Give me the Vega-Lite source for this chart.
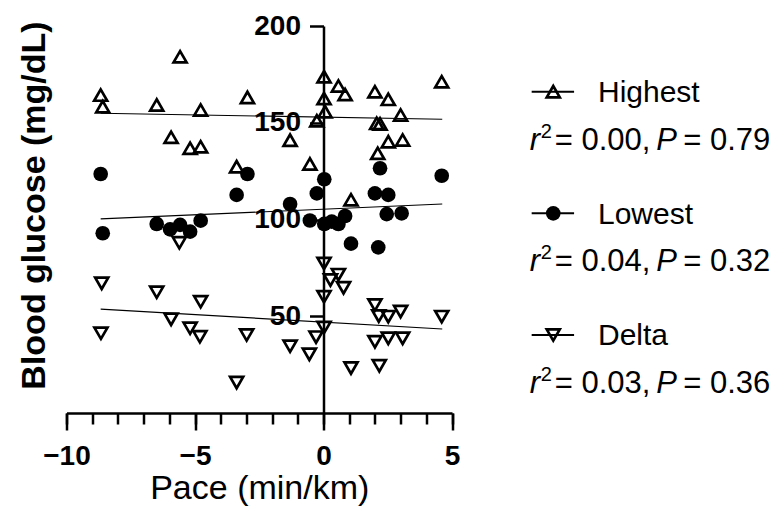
{
  "$schema": "https://vega.github.io/schema/vega-lite/v6.json",
  "autosize": {"type": "none"},
  "padding": {"left": 66.5, "top": 26, "right": 330, "bottom": 95},
  "width": 385.5,
  "height": 387,
  "background": "white",
  "config": {
    "view": {"stroke": null},
    "font": "Liberation Sans",
    "axis": {"grid": false, "domainColor": "black", "tickColor": "black", "labelColor": "black", "titleColor": "black", "labelFlush": false, "labelOverlap": false}
  },
  "datasets": {
    "points": [
      {"series": "Highest", "pace": -8.67, "glucose": 164.3},
      {"series": "Highest", "pace": -8.59, "glucose": 158.3},
      {"series": "Highest", "pace": -6.49, "glucose": 159.2},
      {"series": "Highest", "pace": -5.58, "glucose": 184.1},
      {"series": "Highest", "pace": -4.78, "glucose": 156.6},
      {"series": "Highest", "pace": -2.96, "glucose": 163.1},
      {"series": "Highest", "pace": -5.93, "glucose": 142.5},
      {"series": "Highest", "pace": -5.19, "glucose": 136.8},
      {"series": "Highest", "pace": -4.78, "glucose": 137.6},
      {"series": "Highest", "pace": -3.38, "glucose": 127.3},
      {"series": "Highest", "pace": -1.3, "glucose": 141.0},
      {"series": "Highest", "pace": -0.53, "glucose": 128.7},
      {"series": "Highest", "pace": -0.26, "glucose": 151.0},
      {"series": "Highest", "pace": 0.02, "glucose": 173.8},
      {"series": "Highest", "pace": 0.02, "glucose": 162.5},
      {"series": "Highest", "pace": 0.06, "glucose": 155.7},
      {"series": "Highest", "pace": 0.58, "glucose": 169.0},
      {"series": "Highest", "pace": 0.84, "glucose": 164.6},
      {"series": "Highest", "pace": 1.07, "glucose": 110.2},
      {"series": "Highest", "pace": 2.0, "glucose": 166.0},
      {"series": "Highest", "pace": 2.52, "glucose": 162.1},
      {"series": "Highest", "pace": 3.0, "glucose": 154.0},
      {"series": "Highest", "pace": 2.07, "glucose": 149.7},
      {"series": "Highest", "pace": 2.2, "glucose": 149.4},
      {"series": "Highest", "pace": 2.52, "glucose": 140.2},
      {"series": "Highest", "pace": 3.08, "glucose": 141.1},
      {"series": "Highest", "pace": 2.11, "glucose": 134.2},
      {"series": "Highest", "pace": 4.6, "glucose": 171.2},
      {"series": "Lowest", "pace": -8.67, "glucose": 123.5},
      {"series": "Lowest", "pace": -2.96, "glucose": 123.5},
      {"series": "Lowest", "pace": -3.38, "glucose": 112.7},
      {"series": "Lowest", "pace": -1.3, "glucose": 108.0},
      {"series": "Lowest", "pace": -0.26, "glucose": 113.5},
      {"series": "Lowest", "pace": 0.03, "glucose": 120.8},
      {"series": "Lowest", "pace": 2.2, "glucose": 126.5},
      {"series": "Lowest", "pace": 4.6, "glucose": 122.6},
      {"series": "Lowest", "pace": 2.0, "glucose": 113.5},
      {"series": "Lowest", "pace": 2.52, "glucose": 112.7},
      {"series": "Lowest", "pace": 2.46, "glucose": 102.8},
      {"series": "Lowest", "pace": 3.04, "glucose": 103.2},
      {"series": "Lowest", "pace": -8.59, "glucose": 92.9},
      {"series": "Lowest", "pace": -6.49, "glucose": 97.7},
      {"series": "Lowest", "pace": -5.97, "glucose": 94.9},
      {"series": "Lowest", "pace": -5.58, "glucose": 97.2},
      {"series": "Lowest", "pace": -5.19, "glucose": 93.7},
      {"series": "Lowest", "pace": -4.78, "glucose": 99.4},
      {"series": "Lowest", "pace": -0.53, "glucose": 99.5},
      {"series": "Lowest", "pace": 0.03, "glucose": 97.7},
      {"series": "Lowest", "pace": 0.32, "glucose": 98.9},
      {"series": "Lowest", "pace": 0.58, "glucose": 97.7},
      {"series": "Lowest", "pace": 0.84, "glucose": 101.8},
      {"series": "Lowest", "pace": 1.07, "glucose": 87.5},
      {"series": "Lowest", "pace": 2.13, "glucose": 85.6},
      {"series": "Delta", "pace": -5.61, "glucose": 88.0},
      {"series": "Delta", "pace": -8.63, "glucose": 67.0},
      {"series": "Delta", "pace": -6.49, "glucose": 62.4},
      {"series": "Delta", "pace": -4.78, "glucose": 57.5},
      {"series": "Delta", "pace": -8.66, "glucose": 41.2},
      {"series": "Delta", "pace": -5.93, "glucose": 48.4},
      {"series": "Delta", "pace": -5.19, "glucose": 43.8},
      {"series": "Delta", "pace": -4.81, "glucose": 39.4},
      {"series": "Delta", "pace": -2.99, "glucose": 40.3},
      {"series": "Delta", "pace": -1.3, "glucose": 34.5},
      {"series": "Delta", "pace": -0.55, "glucose": 30.3},
      {"series": "Delta", "pace": -0.29, "glucose": 39.2},
      {"series": "Delta", "pace": 0.02, "glucose": 44.2},
      {"series": "Delta", "pace": -3.38, "glucose": 15.7},
      {"series": "Delta", "pace": 1.07, "glucose": 23.2},
      {"series": "Delta", "pace": 0.02, "glucose": 77.3},
      {"series": "Delta", "pace": 0.58, "glucose": 71.5},
      {"series": "Delta", "pace": 0.27, "glucose": 68.7},
      {"series": "Delta", "pace": 0.78, "glucose": 64.7},
      {"series": "Delta", "pace": 0.02, "glucose": 60.1},
      {"series": "Delta", "pace": 2.0, "glucose": 55.8},
      {"series": "Delta", "pace": 2.15, "glucose": 50.1},
      {"series": "Delta", "pace": 2.52, "glucose": 49.8},
      {"series": "Delta", "pace": 3.0, "glucose": 52.4},
      {"series": "Delta", "pace": 4.6, "glucose": 49.8},
      {"series": "Delta", "pace": 2.0, "glucose": 36.8},
      {"series": "Delta", "pace": 2.52, "glucose": 38.6},
      {"series": "Delta", "pace": 3.08, "glucose": 38.6},
      {"series": "Delta", "pace": 2.17, "glucose": 24.4}
    ],
    "fits": [
      {"series": "Highest", "pace": -8.67, "glucose": 154.9},
      {"series": "Highest", "pace": 4.62, "glucose": 151.8},
      {"series": "Lowest", "pace": -8.67, "glucose": 100.3},
      {"series": "Lowest", "pace": 4.62, "glucose": 108.0},
      {"series": "Delta", "pace": -8.67, "glucose": 53.7},
      {"series": "Delta", "pace": 4.62, "glucose": 43.4}
    ],
    "legend": [
      {"series": "Highest", "r2": "= 0.00,", "p": "= 0.79"},
      {"series": "Lowest", "r2": "= 0.04,", "p": "= 0.32"},
      {"series": "Delta", "r2": "= 0.03,", "p": "= 0.36"}
    ]
  },
  "layer": [
    {
      "data": {"name": "fits"},
      "mark": {"type": "line", "color": "black", "strokeWidth": 1.2},
      "encoding": {
        "x": {"field": "pace", "type": "quantitative", "scale": {"domain": [-10, 5], "nice": false, "zero": false},
          "axis": {"orient": "bottom", "values": [-10, -5, 0, 5], "tickSize": 17, "tickWidth": 2.5, "domain": false,
            "labelFontSize": 28, "labelFontWeight": "bold", "labelPadding": 12,
            "title": "Pace (min/km)", "titleFontSize": 34, "titleFontWeight": "normal", "titlePadding": 1}},
        "y": {"field": "glucose", "type": "quantitative", "scale": {"domain": [0, 200], "nice": false, "zero": false},
          "axis": {"orient": "left", "offset": -257, "values": [50, 100, 150, 200], "tickSize": 14, "tickWidth": 2.5, "domainWidth": 2.5,
            "labelFontSize": 28, "labelFontWeight": "bold", "labelPadding": 9,
            "title": "Blood glucose (mg/dL)", "titleFontSize": 34, "titleFontWeight": "bold", "titleX": -272, "titleY": 179}},
        "detail": {"field": "series", "type": "nominal"}
      }
    },
    {
      "data": {"name": "points"},
      "mark": {"type": "point", "filled": true, "stroke": "black", "opacity": 1},
      "encoding": {
        "x": {"field": "pace", "type": "quantitative", "scale": {"domain": [-10, 5], "nice": false, "zero": false},
          "axis": {"orient": "bottom", "values": [-10, -9, -8, -7, -6, -5, -4, -3, -2, -1, 0, 1, 2, 3, 4, 5], "tickSize": 11, "tickWidth": 2.5,
            "domain": true, "domainWidth": 2.5, "labels": false, "title": null}},
        "y": {"field": "glucose", "type": "quantitative", "scale": {"domain": [0, 200], "nice": false, "zero": false}, "axis": null},
        "shape": {"field": "series", "type": "nominal", "scale": {"domain": ["Highest", "Lowest", "Delta"], "range": ["triangle-up", "circle", "triangle-down"]}, "legend": null},
        "fill": {"condition": {"test": "datum.series === 'Lowest'", "value": "black"}, "value": "transparent"},
        "strokeWidth": {"condition": {"test": "datum.series === 'Lowest'", "value": 0}, "value": 2.7},
        "size": {"condition": {"test": "datum.series === 'Lowest'", "value": 215}, "value": 170}
      }
    },
    {
      "data": {"name": "legend"},
      "mark": {"type": "rule", "color": "black", "strokeWidth": 2},
      "encoding": {
        "x": {"datum": 8.1, "type": "quantitative", "scale": {"domain": [-10, 5], "nice": false, "zero": false}, "axis": null},
        "x2": {"datum": 9.75},
        "y": {"field": "series", "type": "nominal", "scale": {"type": "point", "domain": ["Highest", "Lowest", "Delta"], "padding": 0.5907, "align": 0.457}, "axis": null}
      }
    },
    {
      "data": {"name": "legend"},
      "mark": {"type": "point", "filled": true, "stroke": "black", "opacity": 1},
      "encoding": {
        "x": {"datum": 8.94, "type": "quantitative", "scale": {"domain": [-10, 5], "nice": false, "zero": false}, "axis": null},
        "y": {"field": "series", "type": "nominal", "scale": {"type": "point", "domain": ["Highest", "Lowest", "Delta"], "padding": 0.5907, "align": 0.457}, "axis": null},
        "shape": {"field": "series", "type": "nominal", "scale": {"domain": ["Highest", "Lowest", "Delta"], "range": ["triangle-up", "circle", "triangle-down"]}, "legend": null},
        "fill": {"condition": {"test": "datum.series === 'Lowest'", "value": "black"}, "value": "transparent"},
        "strokeWidth": {"condition": {"test": "datum.series === 'Lowest'", "value": 0}, "value": 2.7},
        "size": {"condition": {"test": "datum.series === 'Lowest'", "value": 215}, "value": 170}
      }
    },
    {
      "data": {"name": "legend"},
      "mark": {"type": "text", "align": "left", "baseline": "alphabetic", "dy": 10.5, "fontSize": 30, "color": "black"},
      "encoding": {
        "x": {"datum": 10.68, "type": "quantitative", "scale": {"domain": [-10, 5], "nice": false, "zero": false}, "axis": null},
        "y": {"field": "series", "type": "nominal", "scale": {"type": "point", "domain": ["Highest", "Lowest", "Delta"], "padding": 0.5907, "align": 0.457}, "axis": null},
        "text": {"field": "series", "type": "nominal"}
      }
    },
    {
      "data": {"name": "legend"},
      "mark": {"type": "text", "align": "left", "baseline": "alphabetic", "dy": 58, "fontSize": 31, "fontStyle": "italic", "color": "black", "text": "r"},
      "encoding": {
        "x": {"datum": 8.03, "type": "quantitative", "scale": {"domain": [-10, 5], "nice": false, "zero": false}, "axis": null},
        "y": {"field": "series", "type": "nominal", "scale": {"type": "point", "domain": ["Highest", "Lowest", "Delta"], "padding": 0.5907, "align": 0.457}, "axis": null}
      }
    },
    {
      "data": {"name": "legend"},
      "mark": {"type": "text", "align": "left", "baseline": "alphabetic", "dy": 46, "fontSize": 20, "color": "black", "text": "2"},
      "encoding": {
        "x": {"datum": 8.45, "type": "quantitative", "scale": {"domain": [-10, 5], "nice": false, "zero": false}, "axis": null},
        "y": {"field": "series", "type": "nominal", "scale": {"type": "point", "domain": ["Highest", "Lowest", "Delta"], "padding": 0.5907, "align": 0.457}, "axis": null}
      }
    },
    {
      "data": {"name": "legend"},
      "mark": {"type": "text", "align": "left", "baseline": "alphabetic", "dy": 58, "fontSize": 31, "color": "black"},
      "encoding": {
        "x": {"datum": 9.0, "type": "quantitative", "scale": {"domain": [-10, 5], "nice": false, "zero": false}, "axis": null},
        "y": {"field": "series", "type": "nominal", "scale": {"type": "point", "domain": ["Highest", "Lowest", "Delta"], "padding": 0.5907, "align": 0.457}, "axis": null},
        "text": {"field": "r2", "type": "nominal"}
      }
    },
    {
      "data": {"name": "legend"},
      "mark": {"type": "text", "align": "left", "baseline": "alphabetic", "dy": 58, "fontSize": 31, "fontStyle": "italic", "color": "black", "text": "P"},
      "encoding": {
        "x": {"datum": 12.95, "type": "quantitative", "scale": {"domain": [-10, 5], "nice": false, "zero": false}, "axis": null},
        "y": {"field": "series", "type": "nominal", "scale": {"type": "point", "domain": ["Highest", "Lowest", "Delta"], "padding": 0.5907, "align": 0.457}, "axis": null}
      }
    },
    {
      "data": {"name": "legend"},
      "mark": {"type": "text", "align": "left", "baseline": "alphabetic", "dy": 58, "fontSize": 31, "color": "black"},
      "encoding": {
        "x": {"datum": 14.0, "type": "quantitative", "scale": {"domain": [-10, 5], "nice": false, "zero": false}, "axis": null},
        "y": {"field": "series", "type": "nominal", "scale": {"type": "point", "domain": ["Highest", "Lowest", "Delta"], "padding": 0.5907, "align": 0.457}, "axis": null},
        "text": {"field": "p", "type": "nominal"}
      }
    }
  ],
  "resolve": {"scale": {"y": "independent"}, "axis": {"x": "independent", "y": "independent"}}
}
